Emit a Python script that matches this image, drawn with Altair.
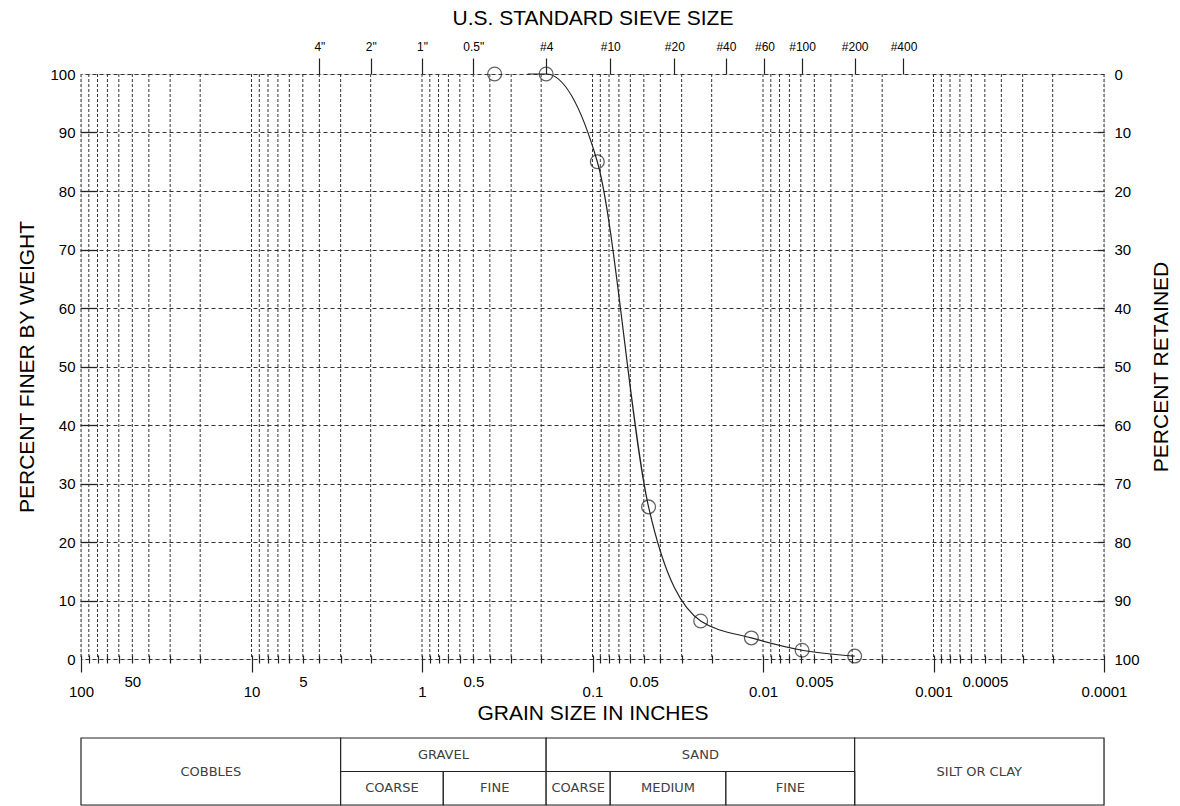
import json
import pandas as pd
import altair as alt

# ---- measured sieve analysis points (grain size in inches, percent finer) ----
sizes_in = [0.375, 0.187, 0.0937, 0.0469, 0.0232, 0.0117, 0.0059, 0.0029]
pct_finer = [100, 100, 85, 26, 6.5, 3.6, 1.5, 0.5]

# ---- gradation curve as drawn ----
curve_size = [0.24, 0.187, 0.0937, 0.0469, 0.0232, 0.0117, 0.0059, 0.0029]
curve_pct = [100, 100, 85, 26, 6.5, 3.6, 1.5, 0.5]

# ---- top axis: US standard sieve sizes ----
sieve_sizes = [4, 2, 1, 0.5, 0.187, 0.0787, 0.0331, 0.0165, 0.0098, 0.0059, 0.0029, 0.0015]
sieve_labels = ['4"', '2"', '1"', '0.5"', "#4", "#10", "#20", "#40", "#60", "#100", "#200", "#400"]

# ---- bottom axis labels ----
x_label_values = [100, 50, 10, 5, 1, 0.5, 0.1, 0.05, 0.01, 0.005, 0.001, 0.0005, 0.0001]
x_label_texts = ["100", "50", "10", "5", "1", "0.5", "0.1", "0.05", "0.01", "0.005", "0.001", "0.0005", "0.0001"]
decade_values = [100, 10, 1, 0.1, 0.01, 0.001, 0.0001]
half_values = [50, 5, 0.5, 0.05, 0.005, 0.0005]
grid_values = sorted(set([round(k * 10.0 ** e, 10) for e in range(-4, 2) for k in range(1, 10)] + [100]))

y_values = [0, 10, 20, 30, 40, 50, 60, 70, 80, 90, 100]
y_inner = [10, 20, 30, 40, 50, 60, 70, 80, 90]

# ---- classification table ----
table_labels = ["COBBLES", "GRAVEL", "SAND", "SILT OR CLAY", "COARSE", "FINE", "COARSE", "MEDIUM", "FINE"]
table_lo = [100, 3, 0.187, 0.0029, 3, 0.75, 0.187, 0.0787, 0.0165]
table_hi = [3, 0.187, 0.0029, 0.0001, 0.75, 0.187, 0.0787, 0.0165, 0.0029]
table_top = [0, 0, 0, 0, 1, 1, 1, 1, 1]
table_bot = [2, 1, 1, 2, 2, 2, 2, 2, 2]

FONT = "DejaVu Sans"
TXT = "#404040"
INK = "#222222"
TITLE_SIZE = 21

pts_df = pd.DataFrame({"size": sizes_in, "pct": pct_finer})
curve_df = pd.DataFrame({"size": curve_size, "pct": curve_pct})
grid_df = pd.DataFrame({"g": grid_values})
tab_df = pd.DataFrame({"label": table_labels, "lo": table_lo, "hi": table_hi,
                       "top": table_top, "bot": table_bot})
tab_df["mid"] = (tab_df["lo"] * tab_df["hi"]) ** 0.5
tab_df["ymid"] = (tab_df["top"] + tab_df["bot"]) / 2

x_scale = alt.Scale(type="log", domain=[0.0001, 100], reverse=True, nice=False)
y_scale = alt.Scale(domain=[0, 100], nice=False, zero=False)

xv = json.dumps(x_label_values)
xt = json.dumps(x_label_texts)
bottom_label_expr = f"indexof({xv}, datum.value) >= 0 ? {xt}[indexof({xv}, datum.value)] : ''"
decade_test = f"indexof({json.dumps(decade_values)}, datum.value) >= 0"
half_test = f"indexof({json.dumps(half_values)}, datum.value) >= 0"
top_label_expr = f"{json.dumps(sieve_labels)}[indexof({json.dumps(sieve_sizes)}, datum.value)]"

# vertical log grid + bottom axis
vgrid = alt.Chart(grid_df).mark_rule(color="#333333", strokeWidth=1, strokeDash=[3, 2]).encode(
    x=alt.X("g:Q", scale=x_scale, axis=alt.Axis(
        orient="bottom", values=grid_values, title="GRAIN SIZE IN INCHES",
        grid=False, domain=False, offset=-4,
        tickColor=INK, tickWidth=1.2,
        tickSize={"condition": {"test": decade_test, "value": 17}, "value": 8},
        labelExpr=bottom_label_expr,
        labelPadding={"condition": {"test": half_test, "value": 11}, "value": 12},
        labelFontSize=15, labelOverlap=False, labelFlush=False,
        titleFontSize=TITLE_SIZE, titleFontWeight="normal", titlePadding=3,
    ))
)

# curve + left axis with horizontal grid
line = alt.Chart(curve_df).mark_line(interpolate="monotone", color=INK, strokeWidth=1.2).encode(
    x=alt.X("size:Q", scale=x_scale, axis=None),
    y=alt.Y("pct:Q", scale=y_scale, axis=alt.Axis(
        orient="left", values=y_values, title="PERCENT FINER BY WEIGHT",
        grid=True, gridDash=[4, 3], gridColor="#333333", gridWidth=1,
        domain=False, ticks=False, labelPadding=6,
        labelFontSize=15, titleFontSize=TITLE_SIZE, titleFontWeight="normal", titlePadding=12,
    )),
    order=alt.Order("size:Q", sort="descending"),
)

# data points + top sieve axis + right retained axis
pts = alt.Chart(pts_df).mark_point(shape="circle", size=190, filled=False, color=INK, strokeWidth=1.3).encode(
    x=alt.X("size:Q", scale=x_scale, axis=alt.Axis(
        orient="top", values=sieve_sizes, labelExpr=top_label_expr,
        title="U.S. STANDARD SIEVE SIZE", grid=False, domain=False,
        tickSize=16, tickColor=INK, tickWidth=1.2, labelPadding=5,
        labelFontSize=12, labelOverlap=False, labelFlush=False,
        titleFontSize=TITLE_SIZE, titleFontWeight="normal", titlePadding=12,
    )),
    y=alt.Y("pct:Q", scale=y_scale, axis=alt.Axis(
        orient="right", values=y_values, labelExpr="100 - datum.value",
        title="PERCENT RETAINED", titleAngle=270, grid=False, domain=False,
        ticks=False, labelPadding=10, labelFontSize=15,
        titleFontSize=TITLE_SIZE, titleFontWeight="normal", titlePadding=32,
    )),
)

# inward tick marks on the left and right frame
lticks = alt.Chart(pts_df).mark_point(opacity=0).encode(
    x=alt.X("size:Q", scale=x_scale, axis=None),
    y=alt.Y("pct:Q", scale=y_scale, axis=alt.Axis(
        orient="left", values=y_inner, offset=-16, tickSize=17, labels=False,
        domain=False, grid=False, title=None, tickColor=INK, tickWidth=1.3)),
)
rticks = alt.Chart(pts_df).mark_point(opacity=0).encode(
    x=alt.X("size:Q", scale=x_scale, axis=None),
    y=alt.Y("pct:Q", scale=y_scale, axis=alt.Axis(
        orient="right", values=y_inner, offset=-7, tickSize=7, labels=False,
        domain=False, grid=False, title=None, tickColor=INK, tickWidth=1.3)),
)

main = alt.layer(vgrid, line, pts, lticks, rticks).resolve_axis(
    x="independent", y="independent"
).properties(width=1023, height=585)

t_scale = alt.Scale(domain=[0, 2], reverse=True, nice=False, zero=False)
rects = alt.Chart(tab_df).mark_rect(fill="white", stroke=INK, strokeWidth=1.2).encode(
    x=alt.X("lo:Q", scale=x_scale, axis=None), x2="hi:Q",
    y=alt.Y("top:Q", scale=t_scale, axis=None), y2="bot:Q",
)
texts = alt.Chart(tab_df).mark_text(font=FONT, fontSize=13, color=TXT).encode(
    x=alt.X("mid:Q", scale=x_scale, axis=None),
    y=alt.Y("ymid:Q", scale=t_scale, axis=None),
    text="label:N",
)
table = alt.layer(rects, texts).properties(width=1023, height=67)

chart = alt.vconcat(main, table, spacing=12).properties(
    padding={"left": 16, "top": 6, "right": 0, "bottom": 0}
).configure_view(stroke=INK, strokeWidth=1.5).configure_axis(
    labelFont=FONT, titleFont=FONT, labelColor=TXT, titleColor=TXT,
    titleFontWeight="normal",
).configure(background="white")

chart.save("out.html", embed_options={"renderer": "svg", "actions": False})
